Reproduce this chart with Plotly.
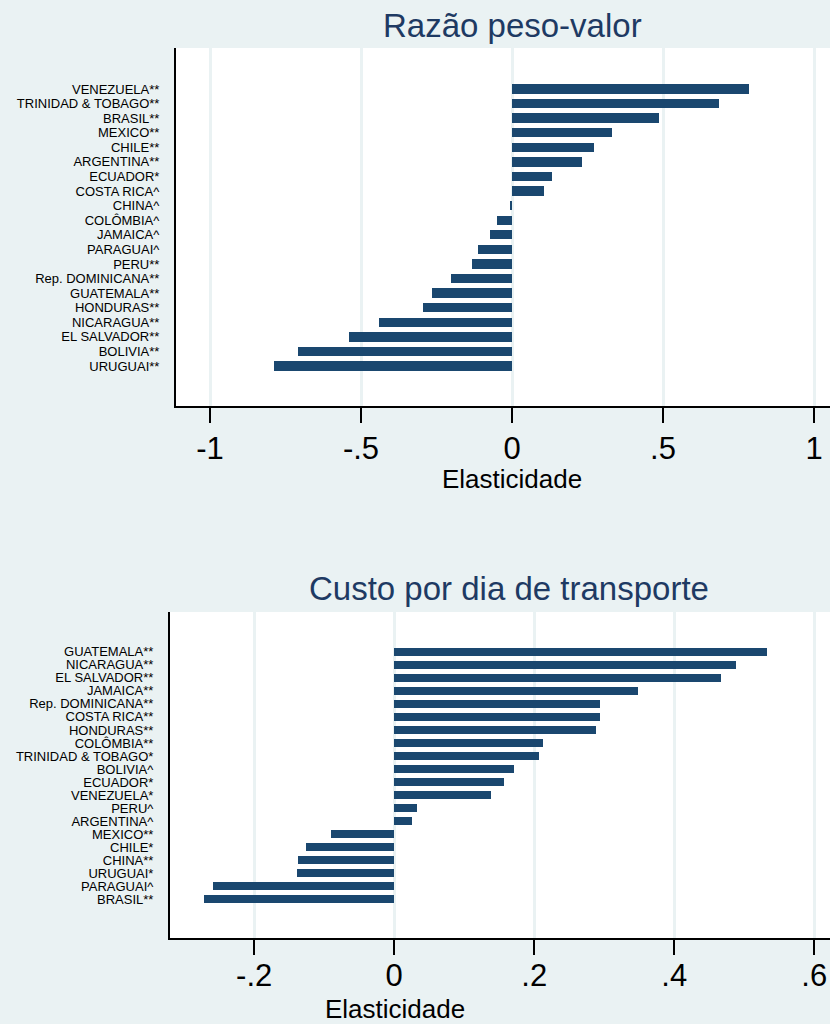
import plotly.graph_objects as go

# ---- data ----
countries_peso = ["VENEZUELA**", "TRINIDAD & TOBAGO**", "BRASIL**", "MEXICO**", "CHILE**",
                  "ARGENTINA**", "ECUADOR*", "COSTA RICA^", "CHINA^", "COLÔMBIA^", "JAMAICA^",
                  "PARAGUAI^", "PERU**", "Rep. DOMINICANA**", "GUATEMALA**", "HONDURAS**",
                  "NICARAGUA**", "EL SALVADOR**", "BOLIVIA**", "URUGUAI**"]
elast_peso = [0.786, 0.684, 0.486, 0.331, 0.270, 0.233, 0.131, 0.106, -0.007, -0.049, -0.074,
              -0.114, -0.132, -0.202, -0.265, -0.296, -0.442, -0.540, -0.707, -0.789]

countries_custo = ["GUATEMALA**", "NICARAGUA**", "EL SALVADOR**", "JAMAICA**", "Rep. DOMINICANA**",
                   "COSTA RICA**", "HONDURAS**", "COLÔMBIA**", "TRINIDAD & TOBAGO*", "BOLIVIA^",
                   "ECUADOR*", "VENEZUELA*", "PERU^", "ARGENTINA^", "MEXICO**", "CHILE*", "CHINA**",
                   "URUGUAI*", "PARAGUAI^", "BRASIL**"]
elast_custo = [0.533, 0.488, 0.467, 0.348, 0.294, 0.2935, 0.288, 0.213, 0.207, 0.171, 0.157,
               0.138, 0.032, 0.026, -0.090, -0.126, -0.138, -0.139, -0.259, -0.272]

ticks_peso = [-1, -0.5, 0, 0.5, 1]
ticklabels_peso = ["-1", "-.5", "0", ".5", "1"]
ticks_custo = [-0.2, 0, 0.2, 0.4, 0.6]
ticklabels_custo = ["-.2", "0", ".2", ".4", ".6"]

title_peso = "Razão peso-valor"
title_custo = "Custo por dia de transporte"
xlabel = "Elasticidade"

# ---- styling ----
BG = "#EAF2F3"
BAR = "#1A476F"
TITLE = "#1E3A63"
FONT = "Liberation Sans, Arial, sans-serif"
W, H = 830, 1024

fig = go.Figure()
fig.add_trace(go.Bar(x=elast_peso, y=countries_peso, orientation="h", width=0.64,
                     marker=dict(color=BAR, line=dict(width=0)), xaxis="x", yaxis="y",
                     showlegend=False))
fig.add_trace(go.Bar(x=elast_custo, y=countries_custo, orientation="h", width=0.64,
                     marker=dict(color=BAR, line=dict(width=0)), xaxis="x2", yaxis="y2",
                     showlegend=False))

def px_x(p):
    return p / W

def px_y(p):
    return 1 - p / H

xcommon = dict(showgrid=True, gridcolor=BG, gridwidth=3, zeroline=False,
               showline=True, linecolor="black", linewidth=2,
               ticks="outside", ticklen=15, tickwidth=2, tickcolor="black",
               tickfont=dict(size=31, color="black", family=FONT), fixedrange=True)
ycommon = dict(showgrid=False, zeroline=False, showline=True, linecolor="black", linewidth=2,
               ticks="", ticklabelstandoff=12, tickmode="array",
               tickfont=dict(size=13, color="black", family=FONT), fixedrange=True)

fig.update_layout(
    width=W, height=H,
    margin=dict(l=0, r=0, t=0, b=0),
    paper_bgcolor=BG, plot_bgcolor="white",
    font=dict(family=FONT),
    bargap=0,
    xaxis=dict(domain=[px_x(176), 1], range=[(176 - 512) / 302, (830 - 512) / 302],
               tickvals=ticks_peso, ticktext=ticklabels_peso, anchor="y",
               ticklabelstandoff=-1, **xcommon),
    yaxis=dict(domain=[px_y(406), px_y(48)], range=[21.74, -2.81], anchor="x",
               categoryorder="array", categoryarray=countries_peso,
               tickvals=countries_peso, ticktext=countries_peso, **ycommon),
    xaxis2=dict(domain=[px_x(170), 1], range=[(170 - 394.2) / 700, (830 - 394.2) / 700],
                tickvals=ticks_custo, ticktext=ticklabels_custo, anchor="y2",
                ticklabelstandoff=-6, **xcommon),
    yaxis2=dict(domain=[px_y(938), px_y(612)], range=[21.98, -3.06], anchor="x2",
                categoryorder="array", categoryarray=countries_custo,
                tickvals=countries_custo, ticktext=countries_custo, **ycommon),
)

annots = [
    dict(text=title_peso, x=px_x(512), y=px_y(25), font=dict(size=33, color=TITLE)),
    dict(text=title_custo, x=px_x(509), y=px_y(588), font=dict(size=33, color=TITLE)),
    dict(text=xlabel, x=px_x(512), y=px_y(479), font=dict(size=26, color="black")),
    dict(text=xlabel, x=px_x(395), y=px_y(1009), font=dict(size=26, color="black")),
]
for a in annots:
    fig.add_annotation(xref="paper", yref="paper", showarrow=False,
                       xanchor="center", yanchor="middle", **a)

fig.write_html("out.html",
               config={"displayModeBar": False},
               post_script="document.body.style.margin='0';"
                           "document.body.style.overflow='hidden';"
                           "document.body.style.background='" + BG + "';")
